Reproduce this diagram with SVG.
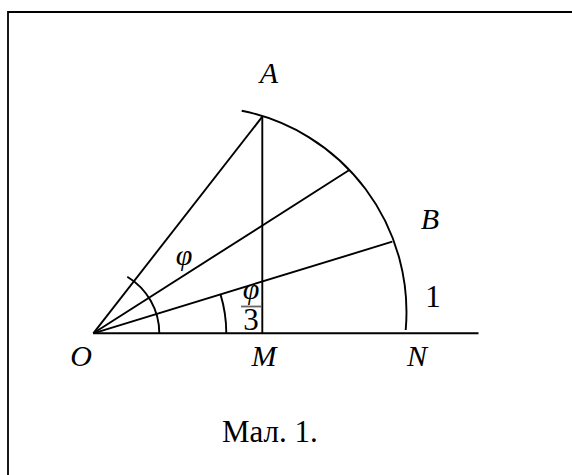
<svg xmlns="http://www.w3.org/2000/svg" width="572" height="475" viewBox="0 0 572 475">
<style>
.ln{stroke:#000;stroke-width:1.9;fill:none;stroke-linecap:butt}
.it{font-family:"Liberation Serif","Times New Roman",serif;font-style:italic;font-size:30px;fill:#000;text-anchor:middle}
.rm{font-family:"Liberation Serif","Times New Roman",serif;font-size:31px;fill:#000;text-anchor:middle}
</style>
<rect width="572" height="475" fill="#fff"/>
<path d="M8,480 V12 H580" stroke="#000" stroke-width="1.8" fill="none"/>
<g id="connectors">
<path class="ln" d="M93.3,333.3 H478.5"/>
<path class="ln" d="M93.3,333.3 L262.3,116.7"/>
<path class="ln" d="M262.3,116.7 V333.3"/>
<path class="ln" d="M93.3,333.3 L349.3,170"/>
<path class="ln" d="M93.3,333.3 L392.3,241.7"/>
<path class="ln" d="M241.7,110.7 A205.5,205.5 0 0 1 405.7,330"/>
<path class="ln" d="M127.3,276.7 A66,66 0 0 1 159.3,333.3"/>
<path class="ln" d="M220.5,294.4 A133,133 0 0 1 226.3,333.3"/>
</g>
<g id="node-A"><text class="it" x="269" y="83">A</text></g>
<g id="node-B"><text class="it" x="430" y="229">B</text></g>
<g id="node-O"><text class="it" x="81" y="366">O</text></g>
<g id="node-M"><text class="it" x="264" y="366">M</text></g>
<g id="node-N"><text class="it" x="417" y="366">N</text></g>
<g id="label-1"><text class="rm" x="433" y="307">1</text></g>
<g id="label-phi"><text class="it" x="184" y="265" font-size="27">φ</text></g>
<g id="label-phi3">
<text class="it" x="251" y="299" font-size="26">φ</text>
<line x1="241" y1="306.5" x2="261" y2="306.5" stroke="#666" stroke-width="1.8"/>
<text class="rm" x="251" y="330" font-size="25">3</text>
</g>
<g id="caption"><text x="222" y="441.7" font-family="Liberation Serif, Times New Roman, serif" font-size="31">Мал. 1.</text></g>
</svg>
